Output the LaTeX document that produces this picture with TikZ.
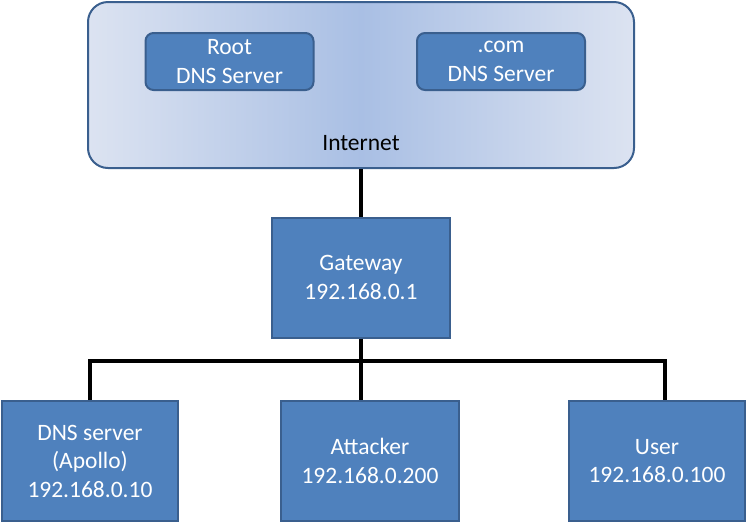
\documentclass[tikz,border=0pt]{standalone}
\usepackage{fontspec}
\setmainfont{Carlito}
\usetikzlibrary{positioning,calc}
\definecolor{boxfill}{HTML}{4F81BD}
\definecolor{boxline}{HTML}{3A5F8E}
\definecolor{netin}{HTML}{A9BFE4}
\definecolor{netout}{HTML}{DCE3F1}
\tikzset{
	netfont/.style={font=\fontsize{23.5}{28.5}\selectfont},
	bb/.style={draw=boxline,line width=2pt,fill=boxfill,text=white,align=center,
		netfont,minimum width=178pt,minimum height=120pt,inner sep=0pt},
	bb dns/.style={bb,rounded corners=8pt,minimum width=168pt,minimum height=57pt},
	cloud box/.style={draw=boxline,line width=2pt,rounded corners=20pt,
		left color=netout,right color=netout,middle color=netin,
		minimum width=546pt,minimum height=166pt,inner sep=0pt},
	wire/.style={line width=4pt,draw=black,line join=miter}
}
\begin{document}
\begin{tikzpicture}[x=1pt,y=-1pt]
	\useasboundingbox (0,0) rectangle (747,523);
	% internet with its two servers
	\node[cloud box] (net) at (361,85) {};
	\node[netfont] (netname) at (361,143) {Internet};
	\node[bb dns] (root) at (229.5,61.5) {Root\\DNS Server};
	\node[bb dns] (com) at (501,61.5) {.com\\DNS Server};
	% local network
	\node[bb] (gw) at (361,277.5) {Gateway\\192.168.0.1};
	\node[bb,minimum width=176pt] (dns) at (90,461) {DNS server\\(Apollo)\\192.168.0.10};
	\node[bb] (atk) at (370,461) {Attacker\\192.168.0.200};
	\node[bb,minimum width=176pt] (user) at (657,461) {User\\192.168.0.100};
	\coordinate (bus) at (gw.south |- 0,361);
	\coordinate (user_in) at ($(user.north)+(8,0)$);
	\draw[wire] (net.south) -- (gw.north);
	\draw[wire] (gw.south) -- (gw.south |- atk.north);
	\draw[wire] (dns.north) |- (bus) -| (user_in);
\end{tikzpicture}
\end{document}
